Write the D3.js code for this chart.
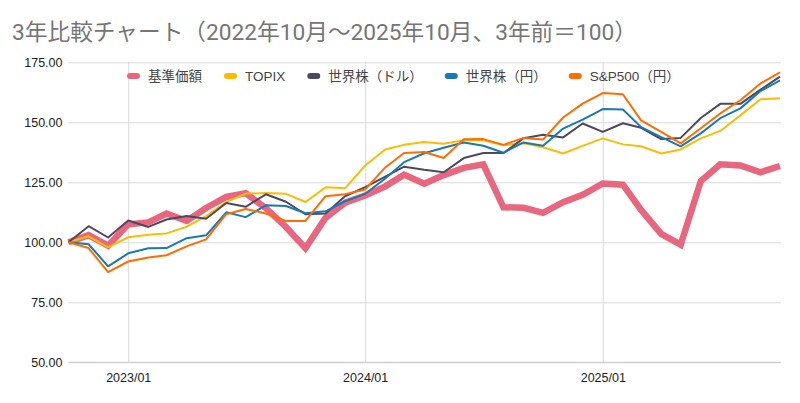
<!DOCTYPE html>
<html>
<head>
<meta charset="utf-8">
<script src="https://cdn.jsdelivr.net/npm/d3@7"></script>
<style>
  html, body { margin: 0; padding: 0; background: #fff; }
  svg { display: block; }
</style>
</head>
<body>
<div id="chart"></div>
<script>
// months 2022/10 .. 2025/10
const months = d3.range(37).map(i => new Date(2022, 9 + i, 1));

const fund   = [100, 103, 98.6, 107.5, 108.3, 112, 108.9, 114.3, 118.9, 120.5, 114.2, 106.4, 97.5, 110.2, 116.5, 119.5, 123.3, 128.2, 124.4, 128, 131, 132.5, 114.6, 114.4, 112.3, 116.7, 119.8, 124.5, 124, 113.5, 103.5, 99, 125.5, 132.5, 132, 129.2, 131.8];
const topix  = [100, 102.5, 97.9, 102.1, 103.1, 103.7, 106.5, 110.9, 116.8, 120.3, 120.5, 120.2, 116.8, 122.9, 122.5, 132, 138.7, 140.6, 141.8, 141.1, 142.5, 142.5, 140.4, 141.3, 139.6, 137, 140.2, 143.3, 140.8, 140, 137, 138.7, 143.3, 146.4, 152.9, 159.6, 160];
const worldUsd = [100, 106.7, 102, 109.1, 106.4, 109.5, 111, 109.8, 116.4, 114.8, 120, 116.9, 111.7, 112, 119.2, 123, 127.4, 131.5, 130.2, 129.2, 135.1, 137.2, 137.2, 143.4, 144.8, 143.7, 149.5, 146, 149.6, 147.7, 143, 143.5, 151.8, 157.7, 157.7, 163.6, 169];
const worldJpy = [100, 99.2, 90, 95.4, 97.5, 97.6, 101.7, 102.9, 112.5, 110.5, 115.4, 115.1, 112.1, 112.9, 117.1, 120.2, 126.6, 133.4, 137.1, 139.4, 141.6, 140.2, 137.3, 141.6, 140.2, 147.4, 151.1, 155.5, 155.3, 148, 143.8, 140, 145.4, 151.7, 155.8, 163, 167.5];
const sp500  = [100, 97.6, 87.6, 92, 93.7, 94.6, 98.3, 101.2, 111.7, 113.9, 112, 108.9, 108.9, 119.2, 120, 122, 131.2, 137.2, 137.6, 135.1, 142.9, 143, 140.6, 143.5, 142.8, 152, 157.8, 162.2, 161.7, 150.8, 146, 141.2, 147.5, 153.7, 159.2, 166.2, 170.8];

const seriesNames = ['基準価額', 'TOPIX', '世界株（ドル）', '世界株（円）', 'S&P500（円）'];
const seriesValues = [fund, topix, worldUsd, worldJpy, sp500];
const colors = ['#e8677f', '#fbbc04', '#4d4862', '#1879b3', '#ff6d01'];
const widths = [6.5, 2, 2, 2, 2];

const yTicks = [50, 75, 100, 125, 150, 175];
const xTicks = [new Date(2023, 0, 1), new Date(2024, 0, 1), new Date(2025, 0, 1)];

const title = '3年比較チャート（2022年10月～2025年10月、3年前＝100）';

const W = 800, H = 403;
const plot = { left: 68.5, right: 780, top: 62.3, bottom: 362.3 };

const svg = d3.select('#chart').append('svg')
  .attr('width', W).attr('height', H);

const x = d3.scaleTime().domain([months[0], months[months.length - 1]]).range([plot.left, plot.right]);
const y = d3.scaleLinear().domain([50, 175]).range([plot.bottom, plot.top]);

// Title
svg.append('text')
  .attr('x', 12).attr('y', 40)
  .attr('font-family', "Roboto, 'Noto Sans CJK JP', sans-serif")
  .attr('font-size', '22.7px')
  .attr('fill', '#757575')
  .text(title);

// Horizontal grid + y labels
const yAxis = svg.append('g')
  .attr('transform', `translate(${plot.left},0)`)
  .call(d3.axisLeft(y).tickValues(yTicks).tickSize(-(plot.right - plot.left + 1)).tickPadding(6).tickFormat(d3.format('.2f')));
yAxis.select('.domain').remove();
yAxis.selectAll('.tick line').attr('stroke', '#d9d9d9');
yAxis.selectAll('.tick text')
  .attr('font-family', "'Liberation Sans', Arial, sans-serif")
  .attr('font-size', '12.5px').attr('fill', '#222');

// Vertical grid + x labels
const xAxis = svg.append('g')
  .attr('transform', `translate(0,${plot.bottom})`)
  .call(d3.axisBottom(x).tickValues(xTicks).tickSize(-(plot.bottom - plot.top)).tickPadding(11).tickFormat(d3.timeFormat('%Y/%m')));
xAxis.select('.domain').remove();
xAxis.selectAll('.tick line').attr('stroke', '#d9d9d9');
xAxis.selectAll('.tick text')
  .attr('font-family', "'Liberation Sans', Arial, sans-serif")
  .attr('font-size', '12.5px').attr('fill', '#222');

// Baseline
svg.append('line')
  .attr('x1', plot.left).attr('x2', plot.right + 1)
  .attr('y1', y(50)).attr('y2', y(50))
  .attr('stroke', '#cfcfcf').attr('stroke-width', 1.2);

// Lines
const line = d3.line().x((d, i) => x(months[i])).y(d => y(d));
seriesValues.forEach((vals, k) => {
  svg.append('path')
    .datum(vals)
    .attr('fill', 'none')
    .attr('stroke', colors[k])
    .attr('stroke-width', widths[k])
    .attr('stroke-linejoin', k === 0 ? 'miter' : 'round')
    .attr('d', line);
});

// Legend
const legend = svg.append('g').attr('transform', 'translate(0,76)');
const items = [];
seriesNames.forEach((name, k) => {
  const g = legend.append('g');
  g.append('rect')
    .attr('x', 0).attr('y', -3).attr('width', 13).attr('height', 6).attr('rx', 3)
    .attr('fill', colors[k]);
  const t = g.append('text')
    .attr('x', 21).attr('y', 4.5)
    .attr('font-family', "'Liberation Sans', Arial, 'Noto Sans CJK JP', sans-serif")
    .attr('font-size', '13.5px').attr('fill', '#444')
    .text(name);
  items.push({ g, w: 21 + t.node().getComputedTextLength() });
});
const gap = 22;
let cursor = 127;
items.forEach(it => {
  it.g.attr('transform', `translate(${cursor},0)`);
  cursor += it.w + gap;
});
</script>
</body>
</html>
